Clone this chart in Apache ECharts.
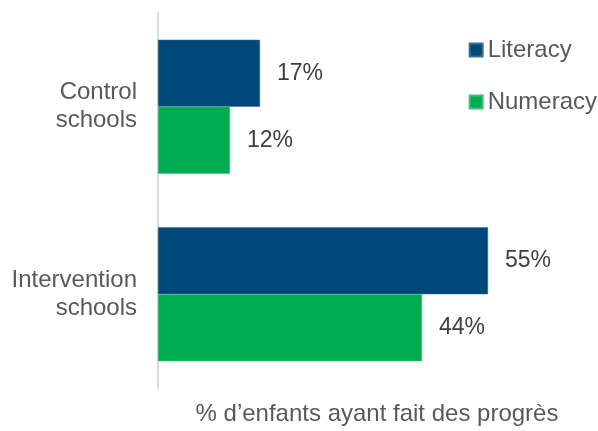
<!DOCTYPE html>
<html><head><meta charset="utf-8">
<script src="https://cdn.jsdelivr.net/npm/echarts@6/dist/echarts.min.js"></script>
<style>html,body{margin:0;padding:0;background:#fff}#c{width:598px;height:431px}</style>
</head><body><div id="c"></div>
<script>
const categories = ['Control\nschools', 'Intervention\nschools'];
const literacy = [17, 55];
const numeracy = [12, 44];
const seriesNames = ['Literacy', 'Numeracy'];
const xTitle = '% d\u2019enfants ayant fait des progrès';

const font = 'Liberation Sans, Arial, sans-serif';
const txt = '#595959';
const chart = echarts.init(document.getElementById('c'));
chart.setOption({
  animation: false,
  textStyle: {fontFamily: font},
  grid: {left: 158, right: 2, top: 13, bottom: 38, containLabel: false},
  legend: {
    data: seriesNames, orient: 'vertical', right: 1, top: 38, padding: 0,
    itemWidth: 13, itemHeight: 13, itemGap: 28, icon: 'rect',
    textStyle: {fontSize: 24, lineHeight: 24, color: txt, fontFamily: font}
  },
  xAxis: {
    type: 'value', min: 0, max: 73,
    axisLine: {show: false}, axisTick: {show: false}, axisLabel: {show: false},
    splitLine: {show: false},
    name: xTitle, nameLocation: 'middle', nameGap: 14,
    nameTextStyle: {fontSize: 24, lineHeight: 24, color: txt, fontFamily: font, verticalAlign: 'top'}
  },
  yAxis: {
    type: 'category', data: categories, inverse: true,
    axisLine: {show: true, lineStyle: {color: '#d9d9d9', width: 2}},
    axisTick: {show: false},
    axisLabel: {fontSize: 24, color: txt, fontFamily: font, lineHeight: 28, margin: 21, align: 'right'}
  },
  series: [
    {name: seriesNames[0], type: 'bar', data: literacy, barWidth: 67, barGap: '0%',
     itemStyle: {color: '#00477A', borderColor: '#3d6d96', borderWidth: 0.5},
     label: {show: true, position: 'right', distance: 17, formatter: '{c}%', fontSize: 23, color: '#404040', fontFamily: font}},
    {name: seriesNames[1], type: 'bar', data: numeracy, barWidth: 67, barGap: '0%',
     itemStyle: {color: '#00AC50', borderColor: '#40c07c', borderWidth: 0.5},
     label: {show: true, position: 'right', distance: 17, formatter: '{c}%', fontSize: 23, color: '#404040', fontFamily: font}}
  ]
});
</script></body></html>
